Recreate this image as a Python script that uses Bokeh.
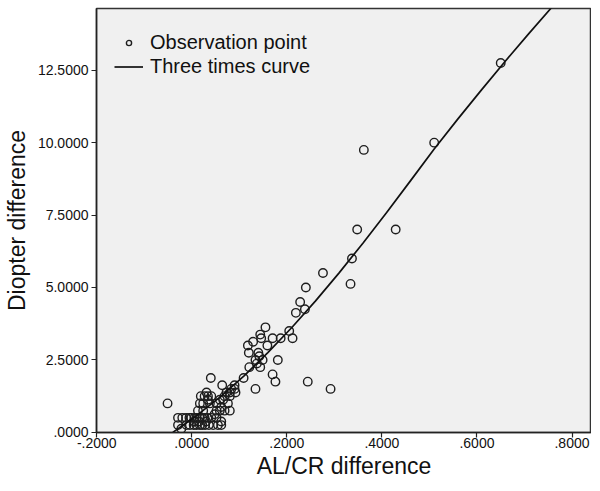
from bokeh.plotting import figure
from bokeh.models import FixedTicker, Legend, LegendItem, ColumnDataSource, Range1d
from bokeh.embed import file_html
from bokeh.resources import INLINE

x_ticks = [-0.2, 0.0, 0.2, 0.4, 0.6, 0.8]
x_tick_labels = ["-.2000", ".0000", ".2000", ".4000", ".6000", ".8000"]
y_ticks = [0.0, 2.5, 5.0, 7.5, 10.0, 12.5]
y_tick_labels = [".0000", "2.5000", "5.0000", "7.5000", "10.0000", "12.5000"]

# Observation points (AL/CR difference, Diopter difference)
al_cr_diff = [
    0.650, 0.510, 0.362, 0.348, 0.429, 0.337, 0.276, 0.334, 0.240, 0.228,
    0.238, 0.219, 0.155, 0.205, 0.144, 0.146, 0.170, 0.187, 0.212, 0.129,
    0.118, 0.159, 0.120, 0.140, 0.142, 0.134, 0.149, 0.181, 0.137, 0.121,
    0.144, 0.170, 0.176, 0.244, 0.292, 0.134, 0.109, 0.040, -0.051, 0.090,
    0.064, 0.083, 0.090, 0.080, 0.073, 0.031, 0.092, 0.069, 0.080, 0.027,
    0.034, 0.041, 0.019, 0.034, 0.059, 0.066, 0.017, 0.024, 0.038, 0.052,
    0.076, 0.062, 0.013, 0.024, 0.052, 0.059, 0.069, 0.080, 0.048,
    -0.029, -0.020, -0.012, -0.005, -0.001, 0.006, 0.010, 0.017, 0.022, 0.027,
    0.033, 0.041, 0.052,
    0.005, 0.015, 0.030, 0.062,
    -0.029, -0.011, -0.004, 0.004, 0.010, 0.017, 0.022, 0.028, 0.036, 0.045,
    0.055, 0.062,
    -0.022,
]
diopter_diff = [
    12.75, 10.0, 9.75, 7.0, 7.0, 6.0, 5.5, 5.125, 5.0, 4.5,
    4.25, 4.125, 3.625, 3.5, 3.375, 3.25, 3.25, 3.25, 3.25, 3.125,
    3.0, 3.0, 2.75, 2.75, 2.625, 2.5, 2.5, 2.5, 2.375, 2.25,
    2.25, 2.0, 1.75, 1.75, 1.5, 1.5, 1.875, 1.875, 1.0, 1.625,
    1.625, 1.5, 1.5, 1.375, 1.375, 1.375, 1.375, 1.25, 1.25, 1.25,
    1.25, 1.25, 1.25, 1.125, 1.125, 1.125, 1.0, 1.0, 1.0, 1.0,
    1.0, 0.875, 0.75, 0.75, 0.75, 0.75, 0.75, 0.75, 0.625,
    0.5, 0.5, 0.5, 0.5, 0.5, 0.5, 0.5, 0.5, 0.5, 0.5,
    0.5, 0.5, 0.5,
    0.375, 0.375, 0.375, 0.375,
    0.25, 0.25, 0.25, 0.25, 0.25, 0.25, 0.25, 0.25, 0.25, 0.25,
    0.25, 0.25,
    0.125,
]

# Cubic ("three times") fitted curve
curve_x = [-0.05, -0.04, 0.01, 0.06, 0.11, 0.16, 0.21, 0.26, 0.31, 0.36,
           0.41, 0.46, 0.51, 0.56, 0.61, 0.66, 0.71, 0.76, 0.78]
curve_y = [-0.11, 0.0, 0.575, 1.225, 1.95, 2.75, 3.61, 4.53, 5.505, 6.53,
           7.59, 8.68, 9.78, 10.82, 11.83, 12.82, 13.78, 14.72, 15.09]

FONT = "Liberation Sans"

p = figure(
    frame_width=495, frame_height=424,
    min_border_left=89, min_border_right=0, min_border_top=8, min_border_bottom=49,
    x_range=Range1d(-0.2005, 0.841), y_range=Range1d(-0.005, 14.63),
    output_backend="svg", toolbar_location=None,
    background_fill_color="#f0f0f0", border_fill_color="white",
)
p.grid.visible = False
p.outline_line_color = "#333333"
p.outline_line_width = 1.5

for ax in (p.xaxis[0], p.yaxis[0]):
    ax.axis_line_color = "#222222"
    ax.axis_line_width = 1.5
    ax.major_tick_line_color = "#222222"
    ax.major_tick_line_width = 1.2
    ax.major_tick_in = 0
    ax.major_tick_out = 5
    ax.minor_tick_line_color = None
    ax.major_label_text_font = FONT
    ax.major_label_text_font_size = "14px"
    ax.major_label_text_color = "#111111"
    ax.axis_label_text_font = FONT
    ax.axis_label_text_font_size = "23px"
    ax.axis_label_text_font_style = "normal"
    ax.axis_label_text_color = "#111111"

p.xaxis[0].ticker = FixedTicker(ticks=x_ticks)
p.xaxis[0].major_label_overrides = dict(zip(x_ticks, x_tick_labels))
p.xaxis[0].axis_label = "AL/CR difference"
p.xaxis[0].major_label_standoff = 0
p.xaxis[0].axis_label_standoff = 2

p.yaxis[0].ticker = FixedTicker(ticks=y_ticks)
p.yaxis[0].major_label_overrides = dict(zip(y_ticks, y_tick_labels))
p.yaxis[0].axis_label = "Diopter difference"
p.yaxis[0].major_label_standoff = 3
p.yaxis[0].axis_label_standoff = 5

src = ColumnDataSource(dict(x=al_cr_diff, y=diopter_diff))
pts = p.scatter(x="x", y="y", source=src, marker="circle", size=8.5,
                fill_color=None, line_color="#1e1e1e", line_width=1.4)

curve_r = p.line(curve_x, curve_y, line_color="#111111", line_width=1.7)

legend = Legend(
    items=[LegendItem(label="Observation point", renderers=[pts]),
           LegendItem(label="Three times curve", renderers=[curve_r])],
    location=(18, 354), orientation="vertical",
    background_fill_alpha=0, border_line_color=None,
    padding=0, margin=0, spacing=0,
    glyph_width=29, glyph_height=13, label_height=24, label_standoff=7,
    label_text_font=FONT, label_text_font_size="20px", label_text_color="#111111",
)
p.add_layout(legend)

open("out.html", "w").write(file_html(p, INLINE))
